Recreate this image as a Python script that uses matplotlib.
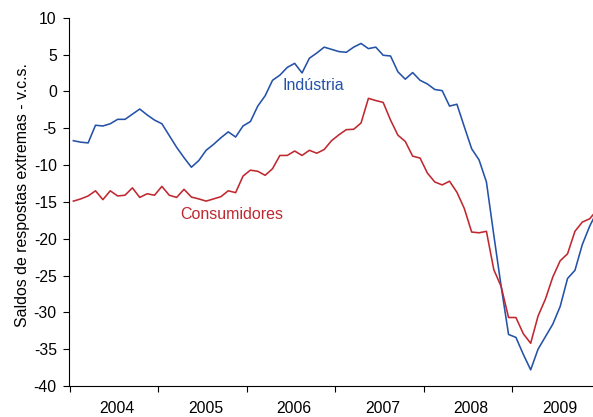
import matplotlib
matplotlib.use('Agg')
from matplotlib import pyplot as plt
import numpy as np

# saldos mensais, jan 2004 - dez 2009 (v.c.s.)
anos = ['2004', '2005', '2006', '2007', '2008', '2009']

industria = [-6.7, -6.9, -7.0, -4.6, -4.7, -4.4, -3.8, -3.8, -3.1, -2.4, -3.2, -3.9,
             -4.4, -6.0, -7.6, -9.0, -10.3, -9.4, -8.0, -7.2, -6.3, -5.5, -6.2, -4.7,
             -4.1, -2.0, -0.6, 1.5, 2.2, 3.25, 3.8, 2.5, 4.5, 5.2, 6.0, 5.7,
             5.4, 5.3, 6.0, 6.5, 5.8, 6.0, 4.9, 4.8, 2.65, 1.65, 2.55, 1.5,
             1.0, 0.25, 0.1, -2.0, -1.75, -4.8, -7.8, -9.3, -12.3, -19.5, -26.5, -33.0,
             -33.4, -35.7, -37.8, -35.0, -33.3, -31.6, -29.2, -25.4, -24.3, -20.8, -18.3, -16.3]

consumidores = [-14.9, -14.6, -14.2, -13.5, -14.7, -13.5, -14.2, -14.1, -13.1, -14.4, -13.9, -14.1,
                -12.9, -14.1, -14.4, -13.3, -14.35, -14.6, -14.9, -14.6, -14.3, -13.5, -13.75, -11.5,
                -10.7, -10.85, -11.4, -10.5, -8.7, -8.7, -8.1, -8.7, -8.0, -8.4, -7.9, -6.7,
                -5.9, -5.2, -5.15, -4.3, -0.95, -1.25, -1.5, -3.9, -5.95, -6.8, -8.8, -9.05,
                -11.1, -12.3, -12.7, -12.2, -13.7, -15.9, -19.1, -19.2, -19.0, -24.2, -26.5, -30.7,
                -30.7, -32.9, -34.2, -30.5, -28.2, -25.2, -23.0, -22.05, -19.0, -17.75, -17.3, -16.1]

meses = np.arange(len(industria))

azul = '#2452A8'
vermelho = '#C0282F'

plt.rcParams['font.family'] = ['Liberation Sans', 'DejaVu Sans']
plt.rcParams['axes.unicode_minus'] = False

fig = plt.figure(figsize=(5.93, 4.17), dpi=100)
ax = fig.add_axes([0.1169, 0.0743, 0.8831, 0.8833])

ax.plot(meses, industria, color=azul, lw=1.15)
ax.plot(meses, consumidores, color=vermelho, lw=1.15)

ax.text(32.5, 0.85, 'Indústria', color=azul, fontsize=11.5, ha='center', va='center')
ax.text(14.45, -16.7, 'Consumidores', color=vermelho, fontsize=11.5, ha='left', va='center')

ax.set_xlim(-0.55, 70.45)
ax.set_ylim(-40, 10)
ax.set_yticks(np.arange(-40, 11, 5))

# marcas nas viradas de ano, rotulos no meio de cada ano
ax.set_xticks(np.arange(-0.5, 71, 12))
ax.set_xticklabels([])
ax.set_xticks(np.arange(5.9, 71, 12), minor=True)
ax.set_xticklabels(anos, minor=True)
ax.tick_params(axis='x', which='major', length=4, width=0.8, direction='out')
ax.tick_params(axis='x', which='minor', length=0, pad=11, labelsize=11.3)
ax.tick_params(axis='y', length=4, width=0.8, pad=5, labelsize=11.3)

ax.spines['top'].set_visible(False)
ax.spines['right'].set_visible(False)
ax.spines['left'].set_linewidth(0.8)
ax.spines['bottom'].set_linewidth(0.8)

ax.set_ylabel('Saldos de respostas extremas - v.c.s.', fontsize=11.4)
ax.yaxis.set_label_coords(-0.076, 0.519)

fig.savefig('out.png', dpi=100)
